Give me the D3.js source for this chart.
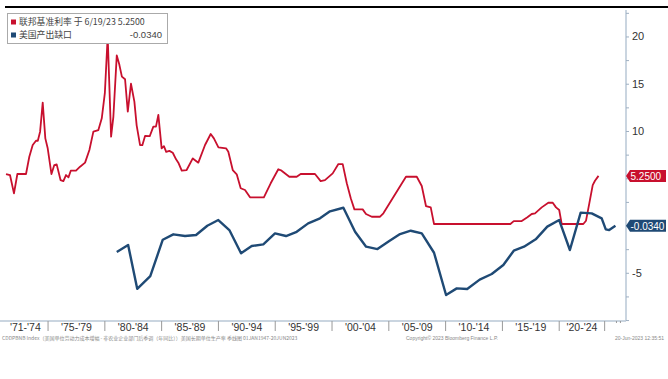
<!DOCTYPE html>
<html><head><meta charset="utf-8">
<script src="https://cdn.jsdelivr.net/npm/d3@7"></script>
<style>
body{margin:0;background:#fff;}
svg{display:block;font-family:"Liberation Sans","DejaVu Sans",sans-serif;}
</style></head>
<body><svg id="c" width="668" height="379"></svg>
<script>
// Fed funds rate (year fraction, value)
const fedYears = [1971.3,1971.65,1972.0,1972.3,1973.06,1973.35,1973.65,1973.94,1974.1,1974.3,1974.53,1974.76,1974.97,1975.3,1975.55,1975.76,1976.1,1976.35,1976.58,1976.8,1977.0,1977.46,1977.82,1978.26,1978.64,1978.99,1979.43,1979.73,1980.0,1980.25,1980.55,1980.75,1981.05,1981.28,1981.5,1981.78,1982.02,1982.3,1982.6,1982.8,1983.1,1983.3,1983.54,1983.95,1984.27,1984.5,1984.71,1985.0,1985.2,1985.4,1985.68,1985.98,1986.27,1986.47,1986.77,1987.2,1987.74,1988.23,1988.82,1989.32,1989.6,1990.0,1990.67,1990.87,1991.26,1991.61,1991.96,1992.34,1992.78,1994.0,1994.6,1995.27,1995.56,1996.24,1996.89,1997.24,1998.5,1999.0,1999.38,2000.06,2000.56,2000.94,2001.3,2001.65,2001.97,2002.7,2002.99,2003.5,2004.23,2004.52,2006.51,2007.46,2007.9,2008.27,2008.69,2008.98,2015.7,2016.0,2016.7,2017.2,2017.58,2017.87,2018.46,2019.04,2019.43,2019.72,2020.0,2020.22,2022.12,2022.36,2022.65,2022.95,2023.15,2023.46];
const fedValues = [5.45,5.34,3.4,5.45,5.45,7.28,8.52,8.97,8.97,9.93,13.0,9.22,8.17,5.45,6.4,6.47,4.81,4.7,5.34,5.1,5.8,5.8,6.22,6.65,7.99,9.93,10.1,11.34,14.0,20.0,9.4,11.5,18.0,17.0,15.75,15.47,12.04,15.0,13.1,10.6,8.5,8.5,9.47,9.45,10.46,10.46,11.7,8.17,8.4,7.8,7.9,7.7,7.0,6.65,5.8,5.87,7.1,6.65,8.52,9.68,9.22,8.27,8.17,7.81,5.87,5.42,3.94,3.76,2.98,2.98,4.47,5.95,5.8,5.16,5.16,5.45,5.45,4.7,4.81,5.52,6.5,6.5,4.47,2.88,1.71,1.71,1.22,0.93,0.93,1.29,5.16,5.16,4.18,2.06,1.92,0.16,0.16,0.47,0.47,0.87,1.22,1.29,1.92,2.41,2.41,1.92,1.64,0.16,0.16,0.51,2.35,4.28,4.74,5.25];
// US output gap
const gapYears = [1981.05,1982.05,1982.85,1984.0,1985.1,1986.03,1987.06,1988.03,1989.02,1989.99,1990.96,1991.99,1992.93,1993.95,1994.98,1995.95,1996.89,1997.9,1998.94,1999.82,2001.0,2002.03,2003.0,2004.0,2005.04,2005.99,2006.93,2007.9,2008.98,2010.04,2010.98,2011.9,2013.0,2014.06,2015.08,2016.0,2016.9,2017.93,2018.95,2020.0,2020.94,2021.89,2022.86,2023.74,2024.1,2024.4,2024.95];
const gapValues = [-2.8,-2.05,-6.7,-5.35,-1.5,-0.93,-1.11,-1.0,-0.02,0.58,-0.48,-2.94,-2.17,-1.99,-0.83,-1.11,-0.66,0.23,0.76,1.5,1.88,-0.66,-2.24,-2.49,-1.64,-0.9,-0.55,-0.83,-2.88,-7.35,-6.65,-6.72,-5.72,-5.13,-4.18,-2.66,-2.24,-1.46,-0.12,0.58,-2.59,1.36,1.29,0.76,-0.4,-0.48,-0.034];
const periodLabels = ["'71-'74","'75-'79","'80-'84","'85-'89","'90-'94","'95-'99","'00-'04","'05-'09","'10-'14","'15-'19","'20-'24"];
const periodBounds = [1971,1975,1980,1985,1990,1995,2000,2005,2010,2015,2020,2024];
const yTicks = [20,15,10,5,0,-5];
const legendNames = ["联邦基准利率 于 6/19/23 5.2500","美国产出缺口"];
const lastValues = ["5.2500","-0.0340"];

const RED="#c8102e", BLUE="#1f4a75";
const svg=d3.select("#c");
const L=0,R=626,T=10,B=321;
const x=d3.scaleLinear().domain([1970.77,2025.88]).range([L,R]);
const y=d3.scaleLinear().domain([-10.1,22.8]).range([B,T]);

// top black rule
svg.append("line").attr("x1",5).attr("x2",668).attr("y1",7).attr("y2",7).attr("stroke","#000").attr("stroke-width",2);

// lines
const line=d3.line().x(d=>x(d[0])).y(d=>y(d[1]));
svg.append("path").datum(fedYears.map((t,i)=>[t,fedValues[i]])).attr("d",line)
  .attr("fill","none").attr("stroke",RED).attr("stroke-width",1.8).attr("stroke-linejoin","round");
svg.append("path").datum(gapYears.map((t,i)=>[t,gapValues[i]])).attr("d",line)
  .attr("fill","none").attr("stroke",BLUE).attr("stroke-width",2.4).attr("stroke-linejoin","round");

// axes frame
svg.append("line").attr("x1",0).attr("x2",R).attr("y1",B).attr("y2",B).attr("stroke","#b9c7d6").attr("stroke-width",1.5);
svg.append("line").attr("x1",R).attr("x2",R).attr("y1",T).attr("y2",B).attr("stroke","#b9c7d6").attr("stroke-width",1.5);

// y axis
const yAxis=d3.axisRight(y).tickValues(d3.range(-10,22.6,2.5)).tickSize(3).tickFormat(d=>yTicks.includes(d)&&d!==0&&d!==5?d:"");
const ga=svg.append("g").attr("transform",`translate(${R},0)`).call(yAxis);
ga.select(".domain").remove();
ga.selectAll(".tick line").attr("stroke","#9fb0c2");
ga.selectAll(".tick text").attr("x",6).attr("font-size",11).attr("fill","#333");

// x separators and labels
periodBounds.slice(1).forEach(b=>{
  svg.append("line").attr("x1",x(b)).attr("x2",x(b)).attr("y1",B).attr("y2",B+10).attr("stroke","#999").attr("stroke-width",1);
});
[2024.6,2024.95].forEach(b=>{
  svg.append("line").attr("x1",x(b)+5).attr("x2",x(b)+5).attr("y1",B).attr("y2",B+2).attr("stroke","#999");
});
periodLabels.forEach((lab,i)=>{
  svg.append("text").attr("x",(x(periodBounds[i])+x(periodBounds[i+1]))/2).attr("y",B+10)
    .attr("text-anchor","middle").attr("font-size",10.5).attr("fill","#333").text(lab);
});

// last value tags
function tag(v,txt,col){
  const yy=y(v);
  svg.append("path").attr("d",`M${R},${yy} L${R+4},${yy-6} L${R+40},${yy-6} L${R+40},${yy+6} L${R+4},${yy+6} Z`).attr("fill",col);
  svg.append("text").attr("x",R+4.5).attr("y",yy+3.8).attr("font-size",10).attr("fill","#fff").text(txt);
}
tag(5.25,lastValues[0],RED);
tag(-0.034,lastValues[1],BLUE);

// legend
svg.append("rect").attr("x",7.5).attr("y",13.5).attr("width",160).attr("height",30).attr("fill","#fff").attr("stroke","#aaa");
[RED,BLUE].forEach((c,i)=>{
  svg.append("rect").attr("x",11).attr("y",19.5+i*13).attr("width",5).attr("height",5).attr("fill",c);
  svg.append("text").attr("x",19).attr("y",25+i*13).attr("font-size",8.8).attr("fill","#444")
    .attr("font-family","'Noto Sans CJK SC',sans-serif").text(legendNames[i]);
});
svg.append("text").attr("x",162).attr("y",38).attr("text-anchor","end").attr("font-size",9.5).attr("fill","#444").text(lastValues[1]);

// footer
svg.append("text").attr("x",2).attr("y",340).attr("font-size",5).attr("fill","#888")
  .attr("font-family","'Noto Sans CJK SC',sans-serif")
  .text("CDDPBNB Index（美国单位劳动力成本增幅 - 非农业企业部门后季调（年同比））美国长期单位生产率   季线图 01JAN1947-20JUN2023");
svg.append("text").attr("x",406).attr("y",340).attr("font-size",5).attr("fill","#888").text("Copyright© 2023 Bloomberg Finance L.P.");
svg.append("text").attr("x",664).attr("y",340).attr("text-anchor","end").attr("font-size",5).attr("fill","#888").text("20-Jun-2023  12:35:51");
</script></body></html>
